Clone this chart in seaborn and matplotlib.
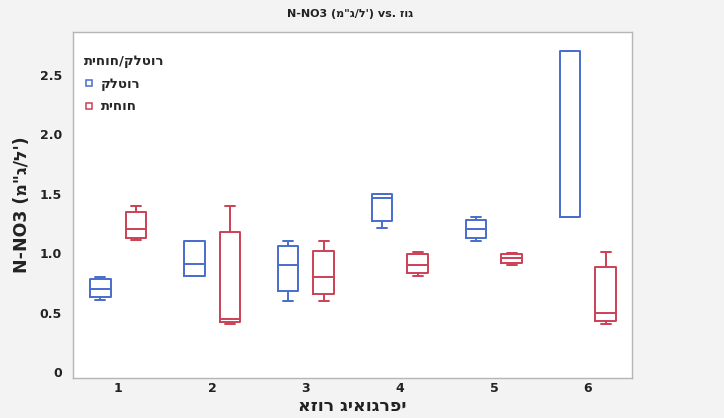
import numpy as np
import pandas as pd
import matplotlib
matplotlib.use("Agg")
import matplotlib.pyplot as plt
from matplotlib.lines import Line2D
import seaborn as sns

# Labels
title_he = "זוג"
unit_he = "מ\"ג/ל'"
xlabel_he = "אזור גיאוגרפי"
legend_title_he = "תיחוח/קלטור"
treatments = ["קלטור", "תיחוח"]

regions = ["1", "2", "3", "4", "5", "6"]

# N-NO3 observations (mg/L) per region, for each treatment
kaltor = [
    [0.61, 0.63, 0.70, 0.78, 0.80],
    [0.81, 0.81, 0.91, 1.10, 1.10],
    [0.60, 0.68, 0.90, 1.06, 1.10],
    [1.21, 1.27, 1.46, 1.50, 1.50],
    [1.10, 1.13, 1.20, 1.28, 1.30],
    [1.30, 1.30, 1.30, 2.70, 2.70],
]
tichuach = [
    [1.11, 1.13, 1.20, 1.35, 1.40],
    [0.40, 0.42, 0.45, 1.18, 1.40],
    [0.60, 0.66, 0.80, 1.02, 1.10],
    [0.81, 0.83, 0.90, 0.99, 1.01],
    [0.90, 0.92, 0.96, 0.99, 1.00],
    [0.40, 0.43, 0.50, 0.88, 1.01],
]

colors = ["#4a6ccc", "#cc4055"]

rows = []
for t, series in zip(treatments, [kaltor, tichuach]):
    for reg, vals in zip(regions, series):
        for v in vals:
            rows.append({"region": reg, "treatment": t, "value": v})
df = pd.DataFrame(rows)

sns.set_style("white")
plt.rcParams["font.family"] = ["DejaVu Sans"]

fig = plt.figure(figsize=(7.24, 4.18), dpi=100)
fig.patch.set_facecolor("#f3f3f3")
ax = fig.add_axes([73 / 724, (418 - 378) / 418, (632 - 73) / 724, (378 - 32) / 418])
ax.set_facecolor("white")

sns.boxplot(
    data=df, x="region", y="value", hue="treatment",
    order=regions, hue_order=treatments,
    palette=colors, fill=False, width=0.76, gap=0.42,
    whis=np.inf, linewidth=1.4, legend=False, ax=ax,
)

ax.set_ylim(-0.05, 2.86)
ax.set_xlim(-0.48, 5.47)
ax.set_yticks([0, 0.5, 1.0, 1.5, 2.0, 2.5])
ax.set_yticklabels(["0", "0.5", "1.0", "1.5", "2.0", "2.5"])
ax.tick_params(axis="both", length=0, labelsize=9, labelcolor="#222222")
ax.tick_params(axis="x", pad=3)
ax.tick_params(axis="y", pad=8)
for lab in ax.get_xticklabels() + ax.get_yticklabels():
    lab.set_fontweight("bold")

for sp in ax.spines.values():
    sp.set_color("#b5b5b5")
    sp.set_linewidth(1.0)

ax.set_xlabel(xlabel_he, fontsize=12.5, fontweight="bold", color="#222222", labelpad=1)
ax.set_ylabel("N-NO3 (" + unit_he + ")", fontsize=12.5, fontweight="bold",
              color="#222222", labelpad=6)

fig.text(0.483, 0.966, "N-NO3 (" + unit_he + ") vs. " + title_he,
         ha="center", va="center", fontsize=8, fontweight="bold", color="#222222")

handles = [
    Line2D([0], [0], color=c, marker="s", markersize=5, markerfacecolor="none",
           markeredgewidth=1.1, linestyle="none")
    for c in colors
]
leg = ax.legend(handles, treatments, title=legend_title_he,
                loc="upper left", bbox_to_anchor=(0.0, 0.965), frameon=False,
                prop={"weight": "bold", "size": 9.5}, handlelength=0.8,
                handletextpad=0.5, labelspacing=0.75, borderaxespad=0.4)
leg.get_title().set_fontweight("bold")
leg.get_title().set_fontsize(9.5)
leg._legend_box.align = "left"

fig.savefig("out.png", dpi=100, facecolor=fig.get_facecolor())
